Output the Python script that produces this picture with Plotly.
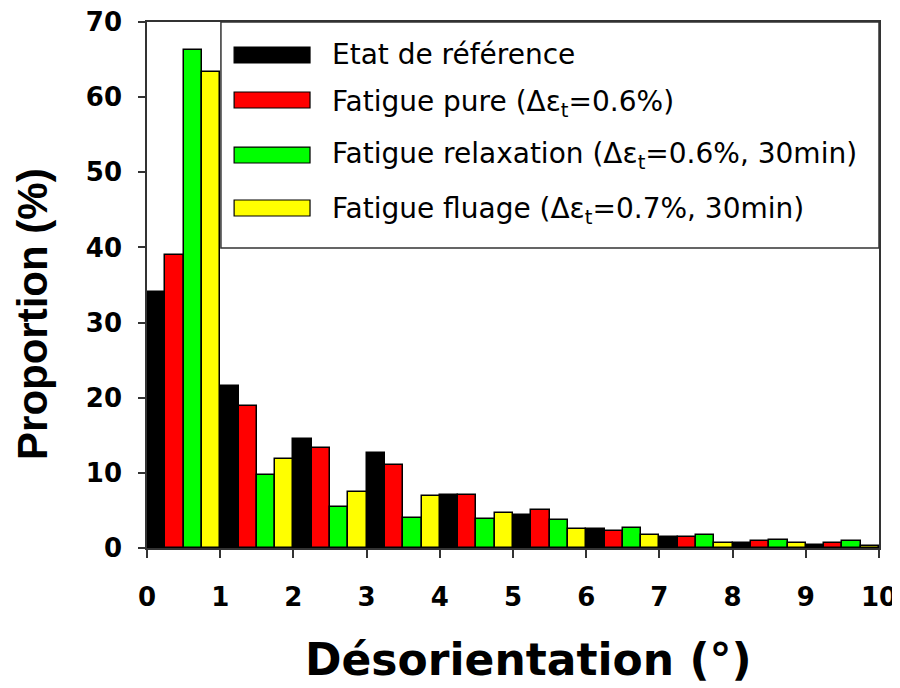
import plotly.graph_objects as go

# Data
bins = [0.5, 1.5, 2.5, 3.5, 4.5, 5.5, 6.5, 7.5, 8.5, 9.5]
ref = [34.1, 21.5, 14.5, 12.7, 7.1, 4.4, 2.5, 1.5, 0.7, 0.45]
pure = [39.0, 18.9, 13.3, 11.0, 7.1, 5.0, 2.3, 1.4, 0.9, 0.7]
relax = [66.3, 9.7, 5.4, 4.0, 3.8, 3.7, 2.7, 1.7, 1.1, 0.9]
fluage = [63.3, 11.8, 7.5, 6.9, 4.6, 2.5, 1.7, 0.7, 0.7, 0.3]

names = [
    "Etat de référence",
    "Fatigue pure (Δε<sub>t</sub>=0.6%)",
    "Fatigue relaxation (Δε<sub>t</sub>=0.6%, 30min)",
    "Fatigue fluage (Δε<sub>t</sub>=0.7%, 30min)",
]
colors = ["#000000", "#ff0000", "#00ff00", "#ffff00"]
series = [ref, pure, relax, fluage]
x_ticks = [0, 1, 2, 3, 4, 5, 6, 7, 8, 9, 10]
y_ticks = [0, 10, 20, 30, 40, 50, 60, 70]

NB = "\u00a0"

fig = go.Figure()
for name, col, vals in zip(names, colors, series):
    fig.add_trace(go.Bar(
        x=bins, y=vals, name=name,
        marker=dict(color=col, line=dict(color="#000000", width=1.5)),
        showlegend=False,
    ))

# Custom legend (box, wide colour swatches, labels)
fig.add_shape(type="rect", xref="paper", yref="paper",
              x0=0.101, x1=1.0, y0=0.5703, y1=1.0,
              line=dict(color="#333333", width=1.5), fillcolor="rgba(0,0,0,0)")
row_y = [0.9373, 0.8517, 0.7471, 0.6464]
text_y = [0.9373, 0.8460, 0.7471, 0.6410]
for name, col, yy, ty in zip(names, colors, row_y, text_y):
    fig.add_shape(type="rect", xref="paper", yref="paper",
                  x0=0.119, x1=0.2227, y0=yy - 0.0152, y1=yy + 0.0152,
                  line=dict(color="#000000", width=1.2), fillcolor=col)
    fig.add_annotation(xref="paper", yref="paper", x=0.25, y=ty,
                       xanchor="left", yanchor="middle", text=name,
                       showarrow=False,
                       font=dict(family="DejaVu Sans", size=28, color="#000000"))

fig.update_layout(
    width=900, height=688,
    margin=dict(l=139, r=29, t=14, b=148, autoexpand=False),
    plot_bgcolor="white", paper_bgcolor="white",
    barmode="group", bargap=0, bargroupgap=0,
    xaxis=dict(
        range=[0, 10], tickvals=x_ticks, ticktext=[str(v) for v in x_ticks],
        ticks="outside", ticklen=8, tickwidth=1.5, tickcolor="#333333",
        showline=True, linecolor="#333333", linewidth=1.5, mirror=True,
        showgrid=False, zeroline=False, automargin=False,
        ticklabeloverflow="allow",
        tickfont=dict(family="DejaVu Sans", size=26, color="#000000", weight="bold"),
        ticklabelstandoff=17,
        title=dict(text="<b>" + NB * 2 + "Désorientation (°)</b>", standoff=33,
                   font=dict(family="DejaVu Sans", size=44, color="#000000")),
    ),
    yaxis=dict(
        range=[0, 70], tickvals=y_ticks, ticktext=[str(v) for v in y_ticks],
        ticks="outside", ticklen=7, tickwidth=1.5, tickcolor="#333333",
        showline=True, linecolor="#333333", linewidth=1.5, mirror=True,
        showgrid=False, zeroline=False, automargin=False,
        ticklabeloverflow="allow",
        tickfont=dict(family="DejaVu Sans", size=26, color="#000000", weight="bold"),
        ticklabelstandoff=11,
        title=dict(text="<b>Proportion (%)" + NB * 5 + "</b>", standoff=25,
                   font=dict(family="Liberation Sans, Arial", size=42, color="#000000")),
    ),
)

fig.write_html("out.html")
